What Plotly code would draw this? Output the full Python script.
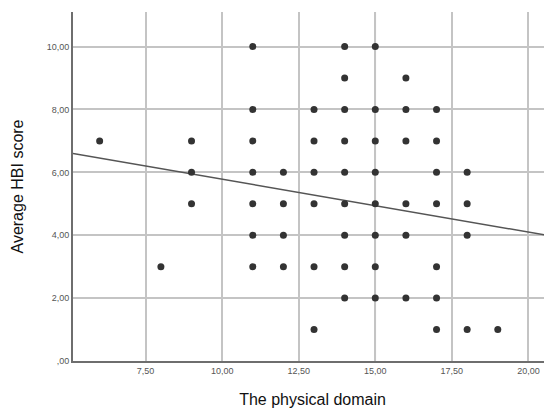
import plotly.graph_objects as go

# Data (physical domain vs. average HBI score)
x_vals = [11, 14, 15,
          14, 16,
          11, 13, 14, 15, 16, 17,
          6, 9, 11, 13, 14, 15, 16, 17,
          9, 11, 12, 13, 14, 15, 17, 18,
          9, 11, 12, 13, 14, 15, 16, 17, 18,
          11, 12, 14, 15, 16, 18,
          8, 11, 12, 13, 14, 15, 17,
          14, 15, 16, 17,
          13, 17, 18, 19]
y_vals = [10, 10, 10,
          9, 9,
          8, 8, 8, 8, 8, 8,
          7, 7, 7, 7, 7, 7, 7, 7,
          6, 6, 6, 6, 6, 6, 6, 6,
          5, 5, 5, 5, 5, 5, 5, 5, 5,
          4, 4, 4, 4, 4, 4,
          3, 3, 3, 3, 3, 3, 3,
          2, 2, 2, 2,
          1, 1, 1, 1]

# Fit line
fit_intercept = 7.46
fit_slope = -0.168

x_range = [5.13, 20.77]
y_range = [0, 11.1]

x_tickvals = [7.5, 10, 12.5, 15, 17.5, 20]
x_ticktext = ["7,50", "10,00", "12,50", "15,00", "17,50", "20,00"]
y_tickvals = [0, 2, 4, 6, 8, 10]
y_ticktext = [",00", "2,00", "4,00", "6,00", "8,00", "10,00"]

line_x = x_range
line_y = [fit_intercept + fit_slope * v for v in line_x]

fig = go.Figure()
fig.add_trace(go.Scatter(
    x=line_x, y=line_y, mode="lines",
    line=dict(color="#555555", width=1.5),
    hoverinfo="skip", showlegend=False))
fig.add_trace(go.Scatter(
    x=x_vals, y=y_vals, mode="markers",
    marker=dict(color="#333333", size=7),
    showlegend=False))

fig.add_vline(x=15, line=dict(color="#9a9a9a", width=1.5), layer="below")

# page body has an 8px margin, so the figure is sized to fill the rest of the window
fig.update_layout(
    width=544, height=408,
    margin=dict(l=65, r=0, t=4, b=55, autoexpand=False),
    paper_bgcolor="white", plot_bgcolor="white",
    font=dict(family="Liberation Sans, Arial, sans-serif", color="#000000"),
    xaxis=dict(
        range=x_range, tickvals=x_tickvals, ticktext=x_ticktext,
        showgrid=True, gridcolor="#c4c4c4", gridwidth=1.5,
        showline=True, linecolor="#6e6e6e", linewidth=2,
        zeroline=False, ticks="", automargin=False,
        tickfont=dict(size=9, color="#555555"),
        title=dict(text="The physical domain", font=dict(size=16, color="#111111"), standoff=19),
    ),
    yaxis=dict(
        range=y_range, tickvals=y_tickvals, ticktext=y_ticktext,
        showgrid=True, gridcolor="#c4c4c4", gridwidth=1.5,
        showline=True, linecolor="#6e6e6e", linewidth=2,
        zeroline=False, ticks="", automargin=False,
        tickfont=dict(size=9, color="#555555"),
        title=dict(text="Average HBI score", font=dict(size=16, color="#111111"), standoff=19),
    ),
)

fig.write_html("out.html")
